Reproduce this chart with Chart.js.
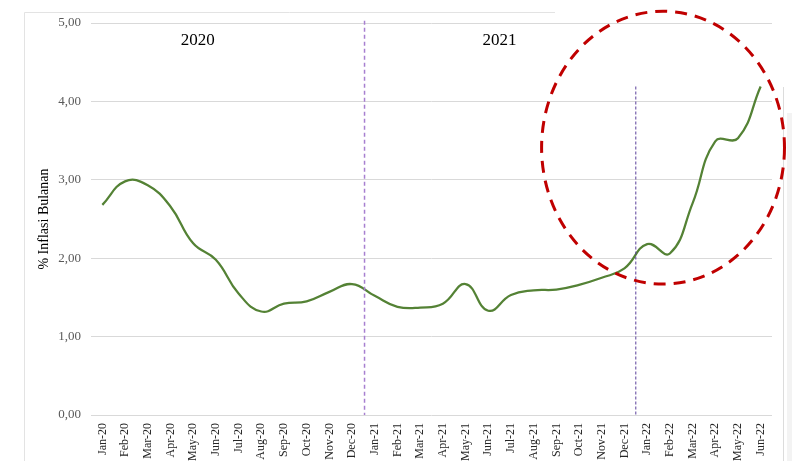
<!DOCTYPE html>
<html>
<head>
<meta charset="utf-8">
<script src="https://cdn.jsdelivr.net/npm/chart.js@4.4.1/dist/chart.umd.min.js"></script>
<style>
  html, body { margin: 0; padding: 0; background: #ffffff; }
  #wrap { width: 792px; height: 461px; position: relative; }
</style>
</head>
<body>
<div id="wrap"><canvas id="inflasiChart"></canvas></div>
<script>
const bulan = ['Jan-20','Feb-20','Mar-20','Apr-20','May-20','Jun-20','Jul-20','Aug-20','Sep-20','Oct-20','Nov-20','Dec-20',
               'Jan-21','Feb-21','Mar-21','Apr-21','May-21','Jun-21','Jul-21','Aug-21','Sep-21','Oct-21','Nov-21','Dec-21',
               'Jan-22','Feb-22','Mar-22','Apr-22','May-22','Jun-22'];
const inflasi = [2.68, 2.98, 2.93, 2.66, 2.19, 1.98, 1.55, 1.32, 1.42, 1.45, 1.57, 1.67,
                 1.52, 1.38, 1.37, 1.42, 1.67, 1.33, 1.53, 1.59, 1.60, 1.66, 1.75, 1.87,
                 2.18, 2.06, 2.70, 3.49, 3.53, 4.19];
const tahunLabel = ['2020', '2021'];
const tahunPosisi = [4.2, 17.5];

const serif = '"Liberation Serif", "DejaVu Serif", serif';

const dekorasi = {
    id: 'dekorasi',
    beforeDraw(chart) {
        const c = chart.ctx;
        c.save();
        // bingkai grafik (tangkapan layar)
        c.strokeStyle = '#e3e3e3';
        c.lineWidth = 1;
        c.beginPath();
        c.moveTo(24.5, 461);
        c.lineTo(24.5, 12.5);
        c.lineTo(555, 12.5);
        c.stroke();
        c.fillStyle = '#f3f3f3';
        c.fillRect(787, 113, 5, 348);
        c.strokeStyle = '#dcdcdc';
        c.beginPath();
        c.moveTo(783.5, 87);
        c.lineTo(783.5, 461);
        c.stroke();
        c.restore();
    },
    afterDatasetsDraw(chart) {
        const c = chart.ctx;
        const x = chart.scales.x, y = chart.scales.y;
        c.save();
        // garis pemisah tahun
        c.strokeStyle = '#a77fd0';
        c.lineWidth = 1.5;
        c.setLineDash([4, 3]);
        c.beginPath();
        c.moveTo(x.getPixelForValue(11.55), y.getPixelForValue(5.03));
        c.lineTo(x.getPixelForValue(11.55), y.getPixelForValue(0));
        c.stroke();
        c.strokeStyle = '#5a3f9a';
        c.lineWidth = 1;
        c.setLineDash([3, 2]);
        c.beginPath();
        c.moveTo(x.getPixelForValue(23.5), y.getPixelForValue(4.19));
        c.lineTo(x.getPixelForValue(23.5), y.getPixelForValue(0));
        c.stroke();

        // label tahun
        c.setLineDash([]);
        c.fillStyle = '#000000';
        c.font = '17px ' + serif;
        c.textAlign = 'center';
        c.textBaseline = 'middle';
        tahunLabel.forEach((t, i) => {
            c.fillText(t, x.getPixelForValue(tahunPosisi[i]), y.getPixelForValue(4.78));
        });

        // lingkaran merah putus-putus
        const cx = x.getPixelForValue(24.7);
        const cy = y.getPixelForValue(3.41);
        const rx = x.getPixelForValue(30.05) - cx;
        const ry = cy - y.getPixelForValue(5.15);
        c.strokeStyle = '#c00000';
        c.lineWidth = 3;
        c.setLineDash([12, 8]);
        c.beginPath();
        c.ellipse(cx, cy, rx, ry, 0, 0, Math.PI * 2);
        c.stroke();
        c.restore();
    }
};

const ctx = document.getElementById('inflasiChart').getContext('2d');
new Chart(ctx, {
    type: 'line',
    data: {
        labels: bulan,
        datasets: [{
            label: '% Inflasi Bulanan',
            data: inflasi,
            borderColor: '#548235',
            borderWidth: 2.25,
            pointRadius: 0,
            tension: 0.45,
            fill: false
        }]
    },
    options: {
        responsive: true,
        maintainAspectRatio: false,
        animation: false,
        layout: { padding: { top: 23, right: 20, bottom: 0, left: 36 } },
        plugins: {
            legend: { display: false },
            tooltip: { enabled: false }
        },
        scales: {
            x: {
                offset: true,
                grid: { display: false, drawTicks: false },
                border: { display: false },
                ticks: {
                    autoSkip: false,
                    maxRotation: 90,
                    minRotation: 90,
                    padding: 8,
                    color: '#262626',
                    font: { family: serif, size: 12 }
                },
                afterFit(s) { s.height = 46; }
            },
            y: {
                min: 0,
                max: 5,
                ticks: {
                    stepSize: 1,
                    padding: 10,
                    color: '#595959',
                    font: { family: serif, size: 13 },
                    callback: v => v.toFixed(2).replace('.', ',')
                },
                grid: { color: '#d9d9d9', drawTicks: false },
                border: { display: false },
                title: {
                    display: true,
                    text: '% Inflasi Bulanan',
                    color: '#000000',
                    font: { family: serif, size: 14 },
                    padding: { top: 0, bottom: 0 }
                },
                afterFit(s) { s.width = 55; }
            }
        }
    },
    plugins: [dekorasi]
});
</script>
</body>
</html>
